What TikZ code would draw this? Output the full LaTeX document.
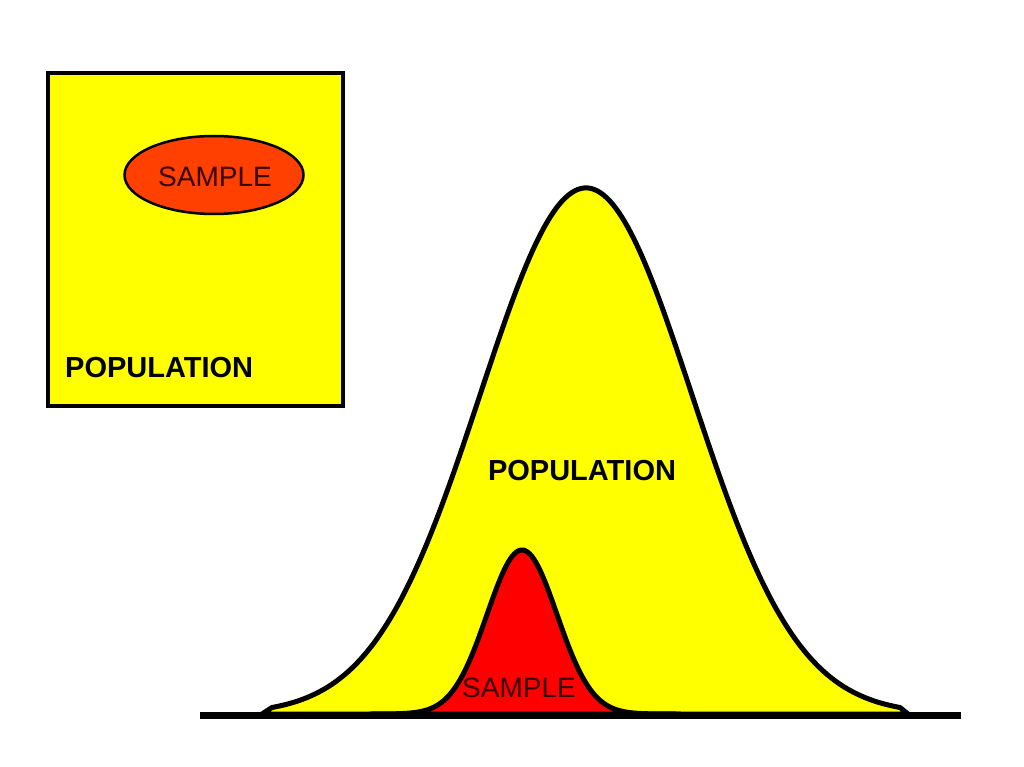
\documentclass[tikz,border=0pt]{standalone}
\usepackage{fontspec}
\setmainfont{Liberation Sans}
\usetikzlibrary{shapes.geometric}
\definecolor{popyellow}{RGB}{255,255,0}
\definecolor{sampleorange}{RGB}{255,64,0}
\definecolor{samplered}{RGB}{255,0,0}
\definecolor{sampletext}{RGB}{55,0,0}
\tikzset{
  outline/.style={draw=black, line width=5pt, line join=round},
  poplabel/.style={font=\fontsize{29}{31}\selectfont\bfseries, text=black, inner sep=0pt},
  samplelabel/.style={font=\fontsize{28}{30}\selectfont, text=sampletext, inner sep=0pt},
}
\begin{document}
\begin{tikzpicture}[x=1pt,y=-1pt]
\useasboundingbox[fill=white] (0,0) rectangle (1024,767);
% population box
\draw[fill=popyellow, draw=black, line width=4pt] (48,73) rectangle (343,406);
\node[ellipse, draw=black, line width=2.5pt, fill=sampleorange, minimum width=179pt, minimum height=78pt, inner sep=0pt] (sampleellipse) at (214,175) {};
\node[samplelabel] (sampleA) at (215,177) {SAMPLE};
\node[poplabel, anchor=west] (popA) at (65,368) {POPULATION};
% big population curve
\draw[outline, fill=popyellow] (262,714) -- plot[domain=272:900, samples=200, smooth] (\x, {714 - 526*exp(-((\x-586)/106)^2/2)}) -- (908,714) -- cycle;
% sample curve
\draw[outline, fill=samplered] (370,714) -- plot[domain=380:670, samples=150, smooth] (\x, {714 - 164*exp(-((\x-522)/35)^2/2)}) -- (680,714) -- cycle;
% axis
\coordinate (axL) at (200,715);
\coordinate (axR) at (961,715);
\draw[line width=7pt] (axL) -- (axR);
\node[poplabel] (popB) at (582,471) {POPULATION};
\node[samplelabel] (sampleB) at (519,688) {SAMPLE};
\end{tikzpicture}
\end{document}
